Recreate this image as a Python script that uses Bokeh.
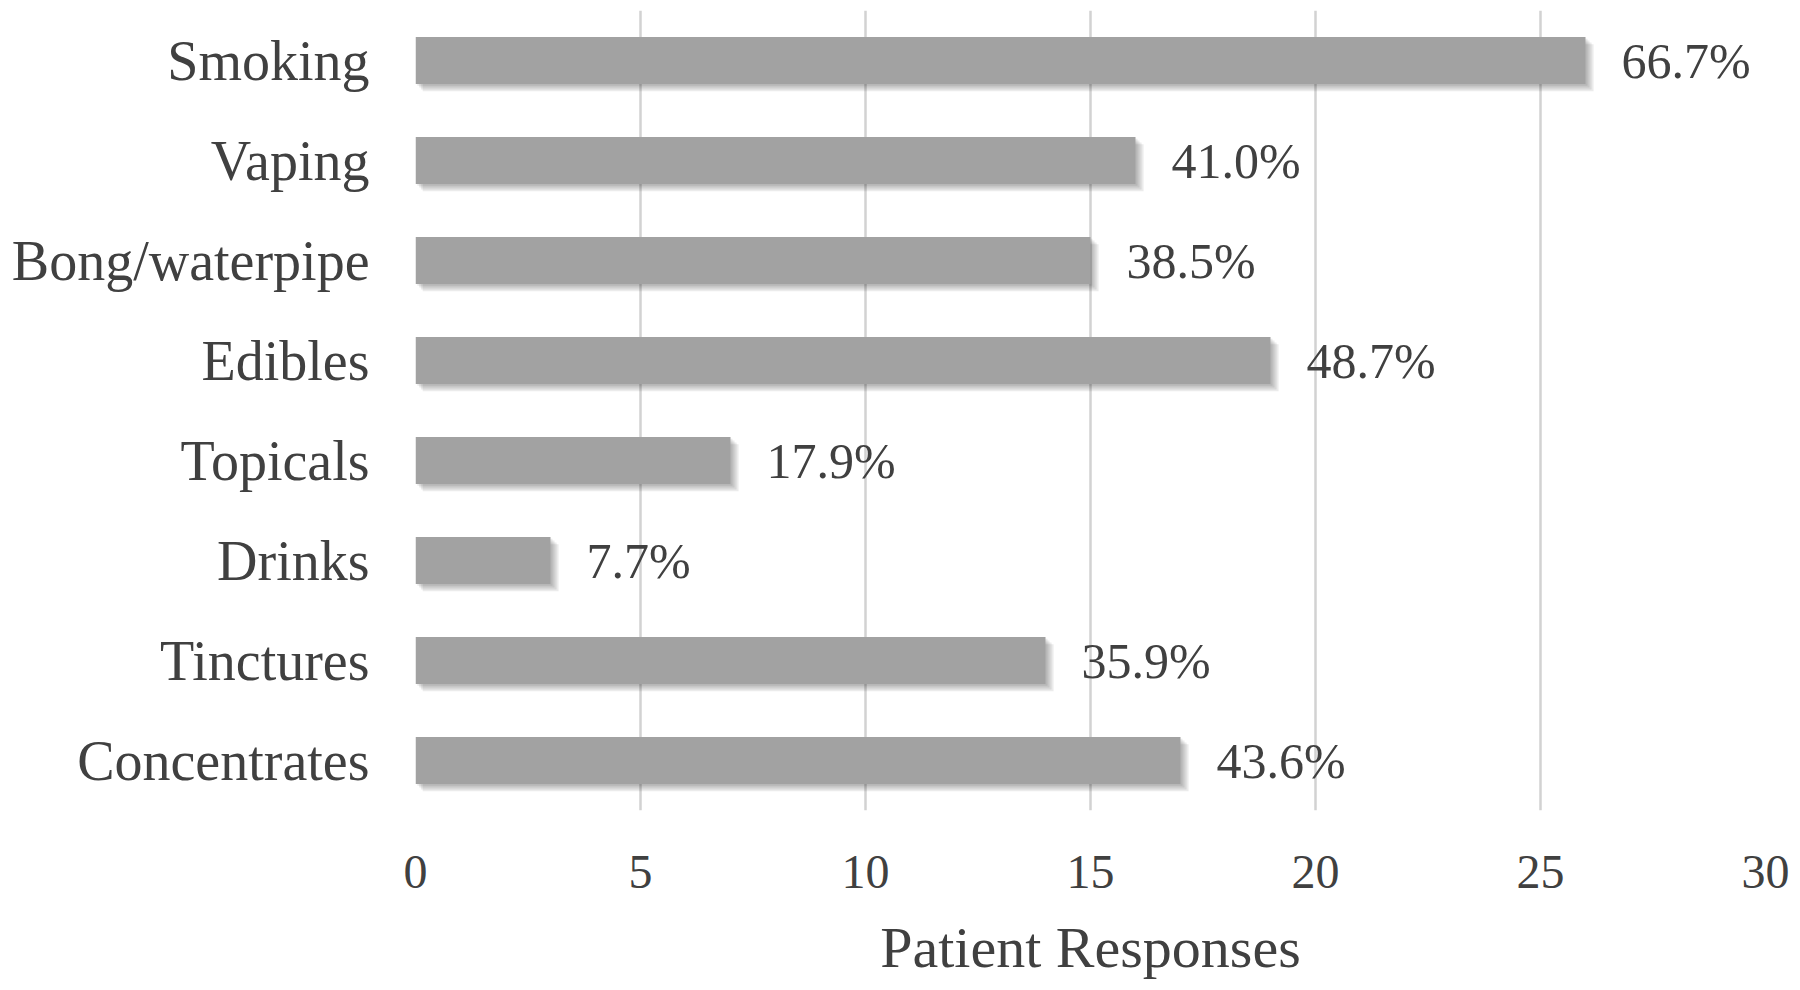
from bokeh.plotting import figure
from bokeh.models import ColumnDataSource, FactorRange, Range1d, FixedTicker
from bokeh.transform import dodge
from bokeh.core.properties import value
from bokeh.embed import file_html
from bokeh.resources import INLINE

categories = ["Smoking", "Vaping", "Bong/waterpipe", "Edibles", "Topicals",
              "Drinks", "Tinctures", "Concentrates"]
responses = [26, 16, 15, 19, 7, 3, 14, 17]
percent_labels = ["66.7%", "41.0%", "38.5%", "48.7%", "17.9%", "7.7%", "35.9%", "43.6%"]
x_ticks = [0, 5, 10, 15, 20, 25, 30]
x_title = "Patient Responses"

FONT = "Liberation Serif"
TEXT = "#404040"

data = dict(cat=categories, val=responses, pct=percent_labels)
n_shadow = 4
for k in range(1, n_shadow + 1):
    data[f"sr{k}"] = [v + 0.045 * k for v in responses]
    data[f"sl{k}"] = [0.04 * k] * len(responses)
src = ColumnDataSource(data)

p = figure(width=1792, height=982,
           y_range=FactorRange(factors=list(reversed(categories))),
           x_range=Range1d(x_ticks[0], x_ticks[-1]),
           output_backend="svg", toolbar_location=None,
           min_border_left=415, min_border_right=27,
           min_border_top=10, min_border_bottom=160)
p.outline_line_color = None
p.background_fill_color = "white"
p.border_fill_color = "white"

p.xgrid.ticker = FixedTicker(ticks=x_ticks)
p.xgrid.grid_line_color = "#d2d2d2"
p.xgrid.grid_line_width = 2.5
p.ygrid.grid_line_color = None

# soft shadow under bars
for k in range(1, n_shadow + 1):
    p.hbar(y=dodge("cat", -0.018 * k, range=p.y_range), left=f"sl{k}", right=f"sr{k}",
           height=0.47, source=src, fill_color="black", fill_alpha=0.08, line_color=None)

p.hbar(y="cat", left=0, right="val", height=0.47, source=src,
       fill_color="#a2a2a2", line_color=None)

p.text(x="val", y="cat", text="pct", source=src, x_offset=36,
       text_align="left", text_baseline="middle",
       text_font=value(FONT), text_font_size="50px", text_color=TEXT)

for ax in (p.xaxis[0], p.yaxis[0]):
    ax.axis_line_color = None
    ax.major_tick_line_color = None
    ax.minor_tick_line_color = None
    ax.major_label_text_font = FONT
    ax.major_label_text_color = TEXT

p.yaxis.major_label_text_font_size = "56px"
p.yaxis.major_label_standoff = 40

p.xaxis.ticker = FixedTicker(ticks=x_ticks)
p.xaxis.major_label_text_font_size = "48px"
p.xaxis.major_label_standoff = 39
p.xaxis.axis_label = x_title
p.xaxis.axis_label_text_font = FONT
p.xaxis.axis_label_text_font_style = "normal"
p.xaxis.axis_label_text_font_size = "58px"
p.xaxis.axis_label_text_color = TEXT
p.xaxis.axis_label_standoff = 24

open("out.html", "w").write(file_html(p, INLINE))
